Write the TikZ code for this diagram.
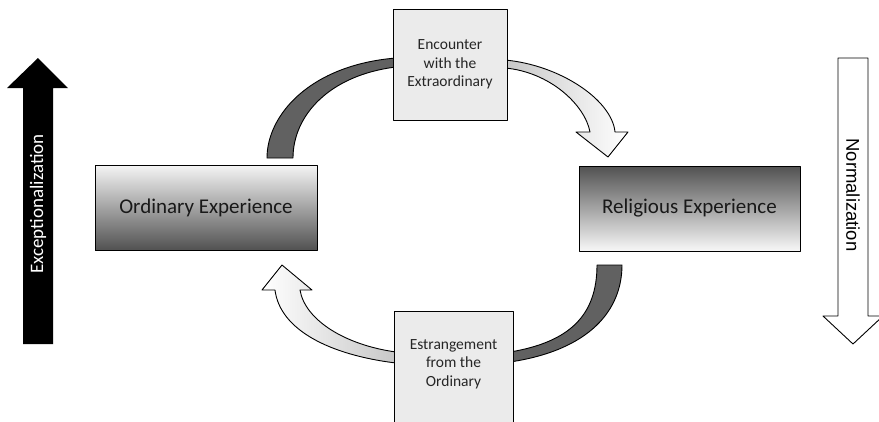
\documentclass[tikz,border=0pt]{standalone}
\usepackage{fontspec}
\setmainfont{Carlito}
\newfontfamily\arialfont{Liberation Sans}
\begin{document}
\begin{tikzpicture}[x=1pt,y=-1pt,
  outl/.style={draw=black,line width=0.9pt,line join=round},
  darkband/.style={outl,fill=black!62},
  lightarr/.style={outl},
  stagetext/.style={align=center,font=\fontsize{15.5}{18.5}\selectfont,text=black!85},
  stagebox/.style={outl,fill=black!8,minimum width=114pt,minimum height=111pt,inner sep=0pt,stagetext},
  expbox/.style={outl,minimum width=222pt,minimum height=85pt,inner sep=0pt,font=\fontsize{21}{24}\selectfont,text=black!90}
]
\useasboundingbox (0,0) rectangle (879,421);

% vertical arrows
\fill[black] (23,344) -- (23,88) -- (7,88) -- (38,58) -- (68,88) -- (53,88) -- (53,344) -- cycle;
\node[rotate=90,text=white,font=\fontsize{19}{22}\selectfont] (exc) at (38,204) {Exceptionalization};
\draw[outl,fill=white] (838,58) -- (838,316) -- (823,316) -- (853,344) -- (883,316) -- (868,316) -- (868,58) -- cycle;
\node[rotate=-90,font=\arialfont\fontsize{18.5}{21}\selectfont] (nor) at (853,195) {Normalization};

% curved bands
\path[darkband] (267,158) .. controls (267,115) and (310,65) .. (396,58) -- (396,67)
  .. controls (330,75) and (293,115) .. (293,158) -- cycle;
\path[darkband] (597,265) .. controls (597,315) and (570,342) .. (510,352) -- (510,362)
  .. controls (590,350) and (622,310) .. (622,265) -- cycle;
\path[lightarr,left color=black!22,right color=white] (505,60) .. controls (560,65) and (612,100) .. (615,132)
  -- (628,132) -- (608,157) -- (576,132) -- (590,132)
  .. controls (585,105) and (550,72) .. (505,68) -- cycle;
\path[lightarr,right color=black!22,left color=white] (396,352) .. controls (345,345) and (305,320) .. (300,290)
  -- (312,290) -- (282,265) -- (262,290) -- (275,290)
  .. controls (280,330) and (330,355) .. (396,363) -- cycle;

% boxes
\node[stagebox] (enc) at (450,64.5) {Encounter\\with the\\Extraordinary};
\node[stagebox,minimum width=119pt,minimum height=118pt] (est) at (453.5,370) {};
\node[stagetext] (estt) at (453.5,364) {Estrangement\\from the\\Ordinary};
\node[expbox,top color=black!4,middle color=black!22,bottom color=black!68] (ord) at (206,207.5) {Ordinary Experience};
\node[expbox,minimum width=221pt,top color=black!68,middle color=black!22,bottom color=black!3] (rel) at (689.5,208.5) {Religious Experience};
\end{tikzpicture}
\end{document}
